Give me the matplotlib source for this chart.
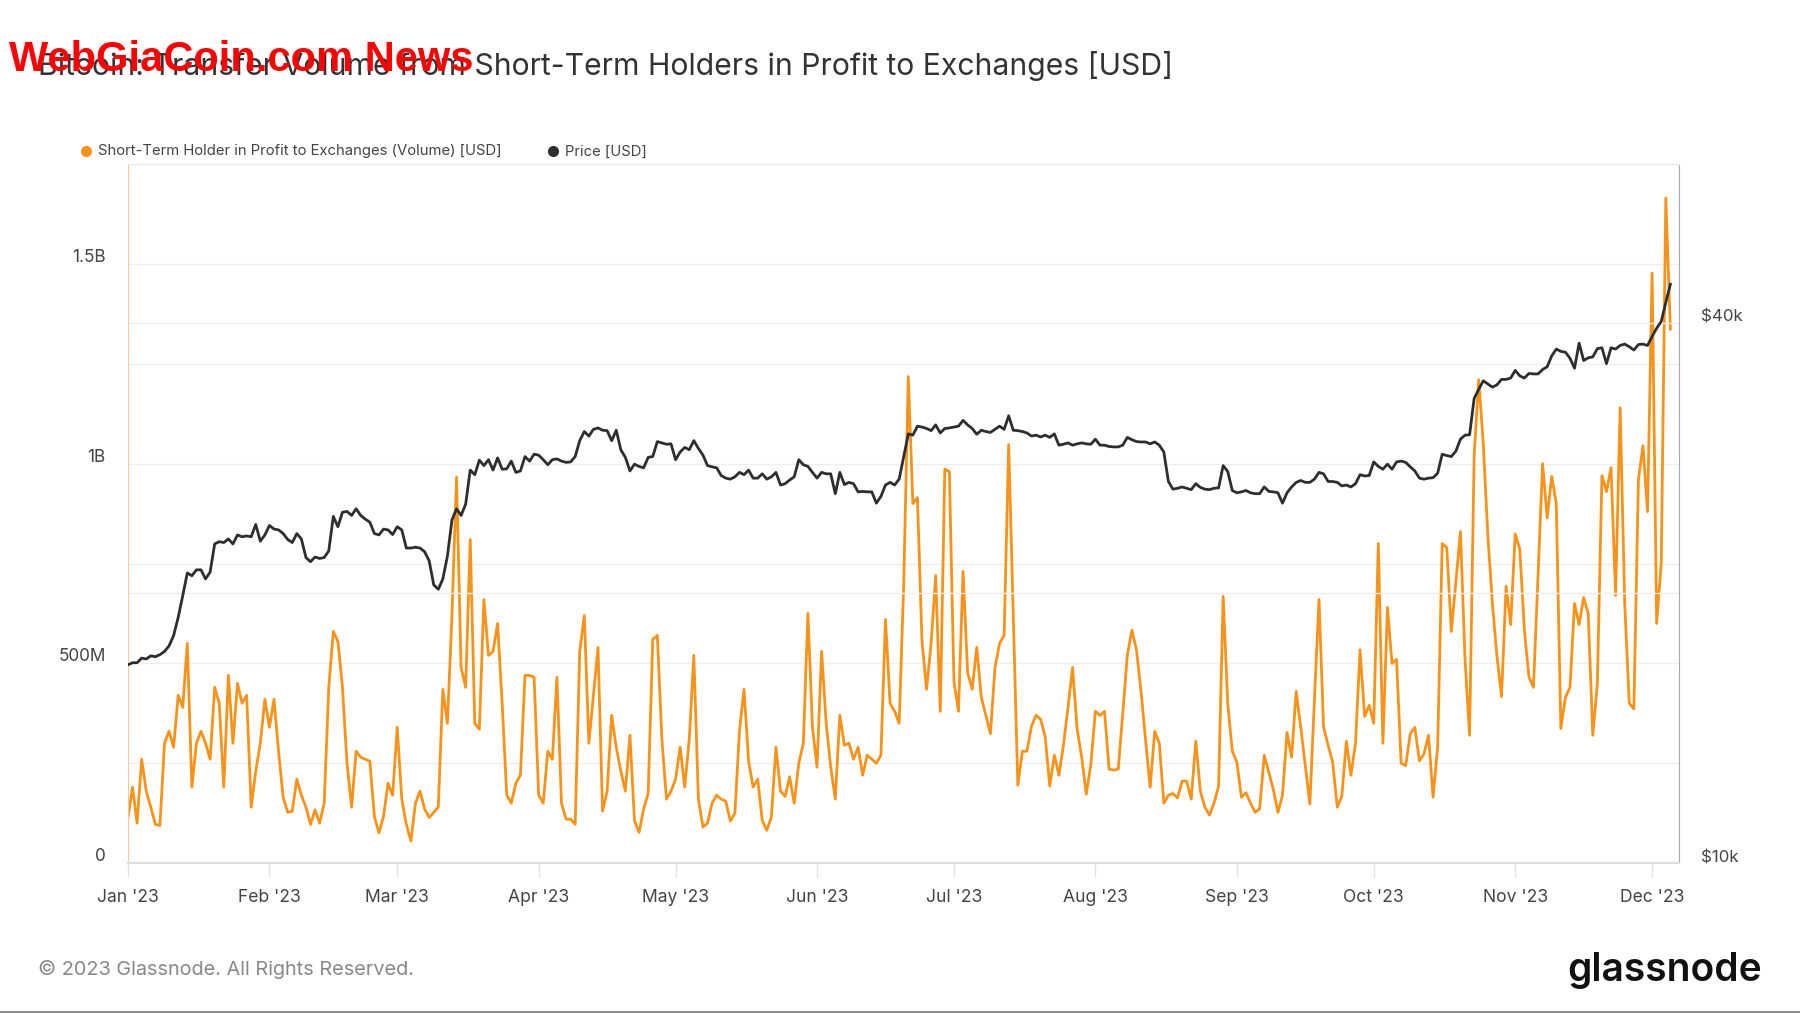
import numpy as np
import pandas as pd
import matplotlib
matplotlib.use("Agg")
import matplotlib.pyplot as plt
import matplotlib.dates as mdates
import matplotlib.transforms as mtransforms
from matplotlib.ticker import FixedLocator, NullFormatter
from matplotlib.lines import Line2D
from matplotlib import font_manager

# ---------------- data ----------------
start_date = "2023-01-01"

# STH-in-profit transfer volume to exchanges, billions USD (daily, from Jan 1 2023)
volume_b = [
    0.114, 0.19, 0.10, 0.26, 0.18, 0.14, 0.097, 0.094, 0.30, 0.33,
    0.29, 0.42, 0.39, 0.55, 0.19, 0.30, 0.33, 0.30, 0.26, 0.44,
    0.40, 0.19, 0.47, 0.30, 0.45, 0.40, 0.42, 0.14, 0.23, 0.30,
    0.41, 0.34, 0.41, 0.28, 0.165, 0.127, 0.13, 0.21, 0.17, 0.14,
    0.097, 0.133, 0.10, 0.15, 0.44, 0.58, 0.555, 0.44, 0.25, 0.14,
    0.28, 0.265, 0.26, 0.255, 0.116, 0.076, 0.117, 0.20, 0.17, 0.34,
    0.16, 0.097, 0.055, 0.15, 0.18, 0.136, 0.114, 0.127, 0.14, 0.435,
    0.35, 0.62, 0.966, 0.49, 0.44, 0.81, 0.35, 0.335, 0.66, 0.52,
    0.53, 0.60, 0.40, 0.17, 0.15, 0.20, 0.22, 0.47, 0.47, 0.465,
    0.17, 0.15, 0.28, 0.26, 0.465, 0.15, 0.11, 0.11, 0.097, 0.53,
    0.62, 0.30, 0.42, 0.54, 0.13, 0.18, 0.37, 0.29, 0.23, 0.18,
    0.32, 0.106, 0.077, 0.135, 0.175, 0.56, 0.57, 0.31, 0.16, 0.18,
    0.21, 0.29, 0.19, 0.31, 0.52, 0.16, 0.09, 0.10, 0.15, 0.17,
    0.16, 0.155, 0.105, 0.125, 0.33, 0.435, 0.255, 0.19, 0.21, 0.106,
    0.082, 0.116, 0.29, 0.18, 0.167, 0.216, 0.15, 0.25, 0.30, 0.625,
    0.34, 0.24, 0.53, 0.35, 0.24, 0.16, 0.37, 0.295, 0.30, 0.26,
    0.29, 0.22, 0.27, 0.26, 0.25, 0.27, 0.61, 0.40, 0.38, 0.35,
    0.70, 1.218, 0.90, 0.915, 0.555, 0.435, 0.55, 0.72, 0.38, 0.986,
    0.98, 0.455, 0.38, 0.73, 0.477, 0.435, 0.54, 0.415, 0.37, 0.324,
    0.49, 0.55, 0.57, 1.048, 0.62, 0.195, 0.28, 0.28, 0.343, 0.37,
    0.36, 0.316, 0.193, 0.27, 0.22, 0.295, 0.39, 0.49, 0.335, 0.265,
    0.173, 0.247, 0.38, 0.37, 0.38, 0.235, 0.233, 0.235, 0.375, 0.52,
    0.583, 0.534, 0.43, 0.307, 0.19, 0.33, 0.30, 0.15, 0.17, 0.174,
    0.163, 0.205, 0.205, 0.16, 0.305, 0.18, 0.14, 0.12, 0.15, 0.193,
    0.668, 0.40, 0.28, 0.253, 0.165, 0.176, 0.15, 0.127, 0.136, 0.27,
    0.227, 0.184, 0.127, 0.17, 0.327, 0.265, 0.43, 0.34, 0.244, 0.148,
    0.41, 0.66, 0.34, 0.295, 0.253, 0.14, 0.167, 0.305, 0.22, 0.30,
    0.534, 0.367, 0.395, 0.35, 0.80, 0.30, 0.64, 0.50, 0.51, 0.25,
    0.244, 0.324, 0.34, 0.256, 0.273, 0.32, 0.165, 0.29, 0.80, 0.79,
    0.58, 0.705, 0.83, 0.51, 0.32, 1.02, 1.21, 1.05, 0.82, 0.65,
    0.517, 0.417, 0.693, 0.597, 0.824, 0.786, 0.585, 0.466, 0.44, 0.72,
    1.00, 0.864, 0.968, 0.90, 0.337, 0.415, 0.44, 0.65, 0.597, 0.665,
    0.625, 0.32, 0.45, 0.97, 0.93, 0.99, 0.67, 1.14, 0.648, 0.40,
    0.386, 0.96, 1.045, 0.88, 1.477, 0.60, 0.75, 1.665, 1.337,
]

# BTC price, thousands USD (daily, from Jan 1 2023)
price_k = [
    16.63, 16.72, 16.72, 16.92, 16.88, 17.02, 16.98, 17.07, 17.21, 17.46,
    17.93, 18.78, 19.86, 21.05, 20.90, 21.22, 21.22, 20.73, 21.10, 22.68,
    22.81, 22.76, 22.97, 22.68, 23.21, 23.10, 23.15, 23.10, 23.84, 22.84,
    23.21, 23.78, 23.56, 23.51, 23.29, 22.94, 22.76, 23.29, 22.97, 21.90,
    21.67, 21.93, 21.85, 21.90, 22.28, 24.34, 23.70, 24.60, 24.65, 24.40,
    24.82, 24.40, 24.17, 23.98, 23.29, 23.21, 23.56, 23.51, 23.23, 23.70,
    23.51, 22.44, 22.44, 22.49, 22.44, 22.23, 21.72, 20.42, 20.19, 20.73,
    21.98, 24.12, 24.82, 24.40, 25.12, 27.41, 27.09, 28.12, 27.73, 28.15,
    27.41, 28.28, 27.47, 27.50, 28.05, 27.25, 27.35, 28.38, 28.05, 28.55,
    28.48, 28.15, 27.79, 28.15, 28.21, 28.05, 27.96, 27.99, 28.38, 29.56,
    30.26, 29.91, 30.43, 30.54, 30.36, 30.33, 29.56, 30.36, 28.88, 28.32,
    27.35, 27.83, 27.67, 27.57, 28.32, 28.38, 29.49, 29.39, 29.29, 29.32,
    28.15, 28.71, 29.05, 28.88, 29.56, 28.98, 28.48, 27.73, 27.64, 27.57,
    27.03, 26.85, 26.78, 26.94, 27.25, 27.09, 27.41, 26.85, 26.85, 27.15,
    26.78, 26.94, 27.25, 26.38, 26.47, 26.72, 26.94, 28.15, 27.79, 27.67,
    27.25, 26.85, 27.25, 27.15, 27.15, 25.80, 27.25, 26.41, 26.56, 26.47,
    25.92, 25.95, 25.92, 25.92, 25.18, 25.62, 26.38, 26.56, 26.38, 26.78,
    28.38, 30.08, 29.98, 30.68, 30.61, 30.50, 30.33, 30.78, 30.15, 30.50,
    30.54, 30.61, 30.68, 31.14, 30.78, 30.50, 30.05, 30.36, 30.26, 30.19,
    30.43, 30.68, 30.43, 31.51, 30.36, 30.33, 30.26, 30.15, 29.91, 29.98,
    29.84, 29.98, 29.81, 30.08, 29.22, 29.29, 29.39, 29.22, 29.32, 29.39,
    29.32, 29.29, 29.67, 29.22, 29.22, 29.12, 29.09, 29.09, 29.22, 29.81,
    29.63, 29.49, 29.46, 29.46, 29.32, 29.46, 29.22, 28.71, 26.62, 26.10,
    26.16, 26.25, 26.16, 26.07, 26.47, 26.22, 26.10, 26.07, 26.16, 26.19,
    27.73, 27.31, 26.01, 25.86, 25.92, 26.01, 25.86, 25.80, 25.80, 26.25,
    25.95, 25.92, 25.86, 25.18, 25.86, 26.25, 26.56, 26.69, 26.56, 26.56,
    26.78, 27.25, 27.15, 26.62, 26.62, 26.56, 26.32, 26.38, 26.25, 26.47,
    27.09, 27.00, 27.03, 27.99, 27.67, 27.47, 27.83, 27.47, 27.99, 28.05,
    27.96, 27.64, 27.35, 26.85, 26.78, 26.85, 26.88, 27.19, 28.55, 28.45,
    28.38, 28.78, 29.67, 29.98, 30.01, 32.94, 33.72, 34.47, 34.19, 33.91,
    34.11, 34.59, 34.59, 34.71, 35.40, 34.91, 34.71, 35.12, 35.08, 35.08,
    35.48, 35.73, 36.74, 37.39, 37.17, 37.09, 36.52, 35.60, 37.96, 36.31,
    36.56, 36.65, 37.43, 37.52, 36.02, 37.52, 37.39, 37.74, 37.87, 37.61,
    37.30, 37.83, 37.87, 37.74, 38.63, 39.45, 40.14, 42.15, 44.15,
]

left_ticks = [0, 0.5e9, 1.0e9, 1.5e9]
left_labels = ["0", "500M", "1B", "1.5B"]
right_ticks = [10000, 40000]
right_labels = ["$10k", "$40k"]

title = "Bitcoin: Transfer Volume from Short-Term Holders in Profit to Exchanges [USD]"
legend_vol = "Short-Term Holder in Profit to Exchanges (Volume) [USD]"
legend_price = "Price [USD]"
footer = "\u00a9 2023 Glassnode. All Rights Reserved."
watermark = "WebGiaCoin.com News"

# ---------------- plot ----------------
plt.rcParams["font.family"] = ["Inter", "DejaVu Sans"]

ORANGE = "#f7931a"
DARK = "#2e2e2e"
GRID = "#eeeeee"
TXT = "#444444"

dates = pd.date_range(start_date, periods=len(volume_b), freq="D")
vol = np.array(volume_b) * 1e9
price = np.array(price_k) * 1000

fig = plt.figure(figsize=(18, 10.13), dpi=100)
fig.patch.set_facecolor("white")
ax = fig.add_axes([0.0711, 0.148, 0.8617, 0.690])
ax2 = ax.twinx()

ax.plot(dates, vol, color=ORANGE, lw=2.0, solid_joinstyle="round", zorder=3)
ax2.plot(dates, price, color=DARK, lw=2.0, solid_joinstyle="round", zorder=4)

x0 = pd.Timestamp(start_date)
ax.set_xlim(mdates.date2num(x0), mdates.date2num(x0) + 339.9)
ax.set_ylim(0, 1.75e9)
ax2.set_yscale("log")
ax2.set_ylim(10000, 60100)

# left axis ticks & grid
ax.yaxis.set_major_locator(FixedLocator(left_ticks))
ax.set_yticklabels(left_labels)
ax.yaxis.set_minor_locator(FixedLocator([0.25e9, 0.75e9, 1.25e9]))
ax.yaxis.set_minor_formatter(NullFormatter())
ax.grid(axis="y", which="both", color=GRID, lw=1.0, zorder=0)
ax.tick_params(axis="y", which="both", length=0, pad=16, labelsize=12.4, labelcolor=TXT)

# right axis ticks & grid
ax2.yaxis.set_major_locator(FixedLocator(right_ticks))
ax2.set_yticklabels(right_labels)
ax2.yaxis.set_minor_locator(FixedLocator([20000]))
ax2.yaxis.set_minor_formatter(NullFormatter())
ax2.grid(axis="y", which="both", color=GRID, lw=1.0, zorder=0)
ax2.tick_params(axis="y", which="both", length=0, pad=16, labelsize=12.2, labelcolor=TXT)

shift = mtransforms.ScaledTranslation(0, -2.0 / 100, fig.dpi_scale_trans)
for lbl in ax.get_yticklabels() + ax2.get_yticklabels():
    lbl.set_verticalalignment("bottom")
    lbl.set_transform(lbl.get_transform() + shift)

# x axis
ax.xaxis.set_major_locator(mdates.MonthLocator())
ax.xaxis.set_major_formatter(mdates.DateFormatter("%b '%y"))
ax.tick_params(axis="x", length=10, width=1, color="#e4e4e4", pad=9,
               labelsize=12.6, labelcolor=TXT)

for a in (ax, ax2):
    for s in a.spines.values():
        s.set_visible(False)
ax2.spines["left"].set_visible(True)
ax2.spines["left"].set_color("#f9c99a")
ax2.spines["right"].set_visible(True)
ax2.spines["right"].set_color("#a8a8a8")
ax2.spines["top"].set_visible(True)
ax2.spines["top"].set_color("#e8e8e8")
ax2.spines["bottom"].set_visible(True)
ax2.spines["bottom"].set_color("#dddddd")
ax2.spines["bottom"].set_linewidth(1.5)

# title & legend
fig.text(0.0211, 0.9345, title, fontsize=21.7, color="#333333", va="center", ha="left")
leg_y = 0.8505
fig.add_artist(Line2D([0.0478], [leg_y], marker="o", markersize=7, color=ORANGE,
                      lw=0, transform=fig.transFigure))
fig.text(0.0542, leg_y, legend_vol, fontsize=10.7, color=TXT, va="center", ha="left")
fig.add_artist(Line2D([0.3072], [leg_y], marker="o", markersize=7, color=DARK,
                      lw=0, transform=fig.transFigure))
fig.text(0.3139, leg_y, legend_price, fontsize=10.7, color=TXT, va="center", ha="left")

# footer
fig.text(0.0211, 0.0432, footer, fontsize=14.3, color="#888888", va="center", ha="left")
fig.text(0.979, 0.0420, "glassnode", fontsize=28, color="#111111", fontweight="semibold",
         va="center", ha="right")
fig.add_artist(Line2D([0, 1], [0.001, 0.001], color="#888888", lw=2,
                      transform=fig.transFigure))

# watermark
avail = {f.name for f in font_manager.fontManager.ttflist}
if "Liberation Sans Narrow" in avail:
    wm_family, wm_size = ["Liberation Sans Narrow", "DejaVu Sans"], 36.5
else:
    wm_family, wm_size = ["Liberation Sans", "DejaVu Sans"], 30
fig.text(0.005, 0.9405, watermark, fontsize=wm_size, color="#ff0000", fontweight="bold",
         va="center", ha="left", family=wm_family)

fig.savefig("out.png", dpi=100, facecolor="white")
